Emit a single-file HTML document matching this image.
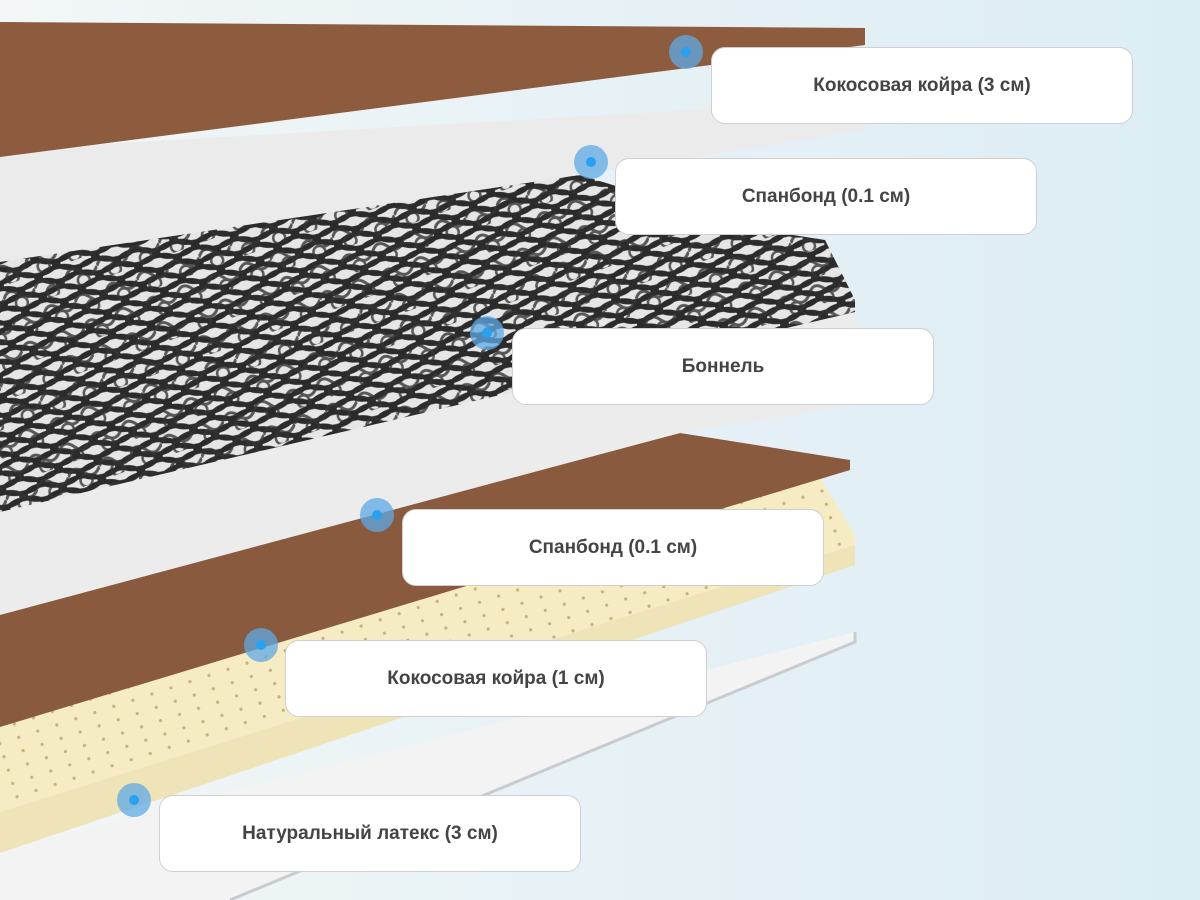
<!DOCTYPE html>
<html><head><meta charset="utf-8"><style>
html,body{margin:0;padding:0;width:1200px;height:900px;overflow:hidden;background:#e8f3f7}
.lb{position:absolute;width:419px;height:75px;background:#fff;border:1px solid #cfcfcf;border-radius:14px;box-sizing:border-box;display:flex;align-items:center;justify-content:center;font:bold 19px "Liberation Sans",sans-serif;color:#444}
.dot{position:absolute;width:34px;height:34px;border-radius:50%;background:rgba(95,170,230,.75);margin:-17px 0 0 -17px}
.dot:after{content:"";position:absolute;left:12px;top:12px;width:10px;height:10px;border-radius:50%;background:#2aa0f0}
</style></head><body>
<svg width="1200" height="900" style="position:absolute;left:0;top:0">
<defs>
<linearGradient id="bg" x1="0" x2="1" y1="0" y2="0"><stop offset="0" stop-color="#f2f6f7"/><stop offset="1" stop-color="#dcedf4"/></linearGradient>
<pattern id="spr" width="40" height="20" patternUnits="userSpaceOnUse" patternTransform="rotate(-12)">
<rect width="40" height="20" fill="#e6e6e6"/>
<ellipse cx="20" cy="10" rx="18" ry="7" fill="none" stroke="#2b2b2b" stroke-width="4.5"/>
<ellipse cx="0" cy="0" rx="18" ry="7" fill="none" stroke="#2b2b2b" stroke-width="4.5"/>
<ellipse cx="40" cy="0" rx="18" ry="7" fill="none" stroke="#2b2b2b" stroke-width="4.5"/>
<ellipse cx="0" cy="20" rx="18" ry="7" fill="none" stroke="#2b2b2b" stroke-width="4.5"/>
<ellipse cx="40" cy="20" rx="18" ry="7" fill="none" stroke="#2b2b2b" stroke-width="4.5"/>
</pattern>
<pattern id="spr2" width="33" height="27" patternUnits="userSpaceOnUse" patternTransform="rotate(-20)">
<path d="M0,13 Q8,2 16,13 T33,13" fill="none" stroke="#333" stroke-width="3"/>
<circle cx="16" cy="22" r="6" fill="none" stroke="#333" stroke-width="2.5"/>
</pattern>
<pattern id="dots" width="20" height="14" patternUnits="userSpaceOnUse" patternTransform="rotate(-18)">
<rect width="20" height="14" fill="#f6ecc4"/><circle cx="10" cy="7" r="1.6" fill="#c9b27a"/></pattern>
</defs>
<rect width="1200" height="900" fill="url(#bg)"/>
<polygon points="0,850 855,632 855,642 230,900 0,900" fill="#f3f3f4"/>
<polyline points="855,632 855,642 230,900" fill="none" stroke="#c8cbd0" stroke-width="3"/>
<polygon points="0,700 820,478 855,535 855,545 0,812" fill="url(#dots)"/>
<polygon points="0,812 855,545 855,565 0,853" fill="#efe3b8"/>
<polygon points="0,610 680,433 850,460 850,470 0,727" fill="#8a5a3e"/>
<polygon points="0,500 855,310 855,405 680,433 0,615" fill="#ececec"/>
<polygon points="0,150 865,100 865,130 580,175 0,265" fill="#ebebeb"/>
<polygon points="0,262 580,175 760,230 825,240 855,300 855,312 0,512" fill="url(#spr)"/>
<polygon points="0,262 580,175 760,230 825,240 855,300 855,312 0,512" fill="url(#spr2)" opacity="0.8"/>
<polygon points="0,22 865,28 865,45 0,157" fill="#8d5b3d"/>
</svg>
<div class="lb" style="left:711px;top:47px;width:422px;height:77px">Кокосовая койра (3 см)</div>
<div class="lb" style="left:615px;top:158px;width:422px;height:77px">Спанбонд (0.1 см)</div>
<div class="lb" style="left:512px;top:328px;width:422px;height:77px">Боннель</div>
<div class="lb" style="left:402px;top:509px;width:422px;height:77px">Спанбонд (0.1 см)</div>
<div class="lb" style="left:285px;top:640px;width:422px;height:77px">Кокосовая койра (1 см)</div>
<div class="lb" style="left:159px;top:795px;width:422px;height:77px">Натуральный латекс (3 см)</div>
<div class="dot" style="left:686px;top:52px"></div>
<div class="dot" style="left:591px;top:162px"></div>
<div class="dot" style="left:487px;top:333px"></div>
<div class="dot" style="left:377px;top:515px"></div>
<div class="dot" style="left:261px;top:645px"></div>
<div class="dot" style="left:134px;top:800px"></div>
</body></html>
